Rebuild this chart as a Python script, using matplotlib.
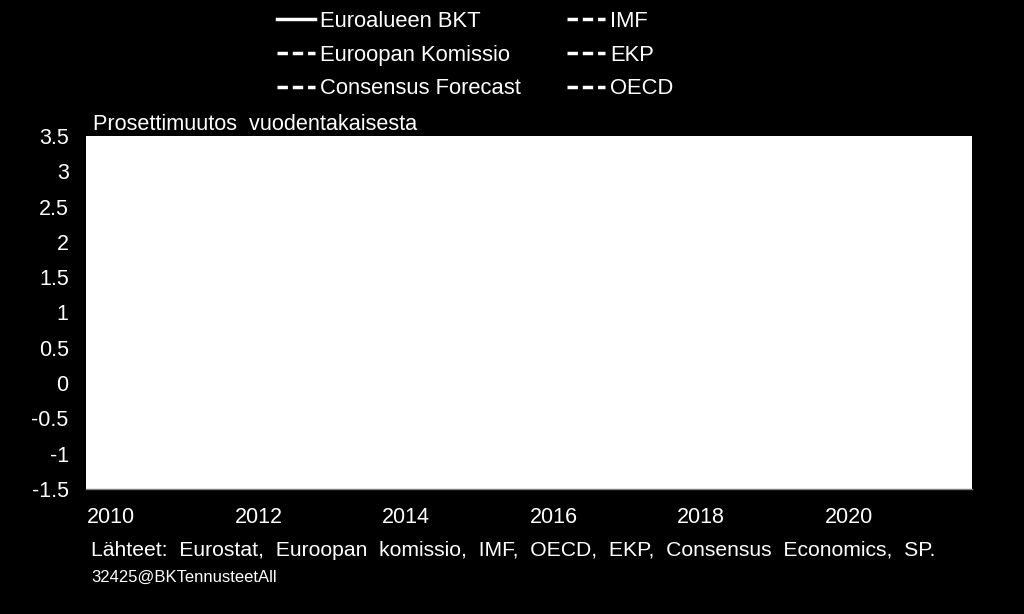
import matplotlib
matplotlib.use("Agg")
import matplotlib.pyplot as plt

plt.rcParams['font.family'] = ['Liberation Sans', 'DejaVu Sans']

# Data (lines are drawn in white on the white plot area, as in the reference)
years_hist = [2010, 2011, 2012, 2013, 2014, 2015, 2016, 2017, 2018, 2019]
gdp_hist = [2.1, 1.7, -0.9, -0.2, 1.4, 2.0, 1.9, 2.6, 1.9, 1.2]
years_fc = [2019, 2020, 2021]
ec_fc = [1.2, 1.2, 1.2]
cf_fc = [1.2, 1.0, 1.2]
imf_fc = [1.2, 1.4, 1.4]
ekp_fc = [1.2, 1.1, 1.4]
oecd_fc = [1.1, 1.1, 1.2]

series_labels = ["Euroalueen BKT", "Euroopan Komissio", "Consensus Forecast",
                 "IMF", "EKP", "OECD"]
y_ticks = [-1.5, -1, -0.5, 0, 0.5, 1, 1.5, 2, 2.5, 3, 3.5]
y_tick_labels = ["-1.5", "-1", "-0.5", "0", "0.5", "1", "1.5", "2", "2.5", "3", "3.5"]
x_ticks = [2010, 2012, 2014, 2016, 2018, 2020]

W, H = 1024, 614
fig = plt.figure(figsize=(W / 100, H / 100), dpi=100, facecolor='black')
ax = fig.add_axes([86 / W, 1 - 489 / H, (972 - 86) / W, (489 - 136) / H])
ax.set_facecolor('white')

dash = (3, 1.4)
lines = []
l, = ax.plot(years_hist, gdp_hist, color='white', lw=2.5, label=series_labels[0])
lines.append(l)
for vals, lab in zip([ec_fc, cf_fc, imf_fc, ekp_fc, oecd_fc], series_labels[1:]):
    l, = ax.plot(years_fc, vals, color='white', lw=2.5, dashes=dash, label=lab)
    lines.append(l)

ax.set_ylim(-1.5, 3.5)
ax.set_xlim(2009.66, 2021.67)
ax.set_yticks(y_ticks)
ax.set_yticklabels(y_tick_labels)
ax.set_xticks(x_ticks)
ax.set_xticklabels([str(x) for x in x_ticks])
ax.tick_params(axis='both', length=0, colors='white', labelsize=15.5)
ax.tick_params(axis='y', pad=12.5)
ax.tick_params(axis='x', pad=13)
for s in ['left', 'top', 'right']:
    ax.spines[s].set_visible(False)
ax.spines['bottom'].set_color('#808080')
ax.spines['bottom'].set_linewidth(1)

leg = fig.legend(handles=lines, labels=series_labels, ncol=2, loc='upper left',
                 bbox_to_anchor=(277 / W, 1 - 11 / H), frameon=False,
                 borderaxespad=0, borderpad=0,
                 fontsize=15.8, labelcolor='white', handlelength=1.73,
                 handletextpad=0.23, columnspacing=2.1, labelspacing=0.58)
for h in leg.legend_handles:
    h.set_linewidth(2.5)

fig.text(93 / W, 1 - 124 / H, "Prosettimuutos  vuodentakaisesta", color='white',
         fontsize=15.6, va='center', ha='left')
fig.text(91 / W, 1 - 550 / H,
         "Lähteet:  Eurostat,  Euroopan  komissio,  IMF,  OECD,  EKP,  Consensus  Economics,  SP.",
         color='white', fontsize=15.2, va='center', ha='left')
fig.text(91 / W, 1 - 577 / H, "32425@BKTennusteetAll", color='white',
         fontsize=12, va='center', ha='left')

fig.savefig("out.png", dpi=100, facecolor='black')
